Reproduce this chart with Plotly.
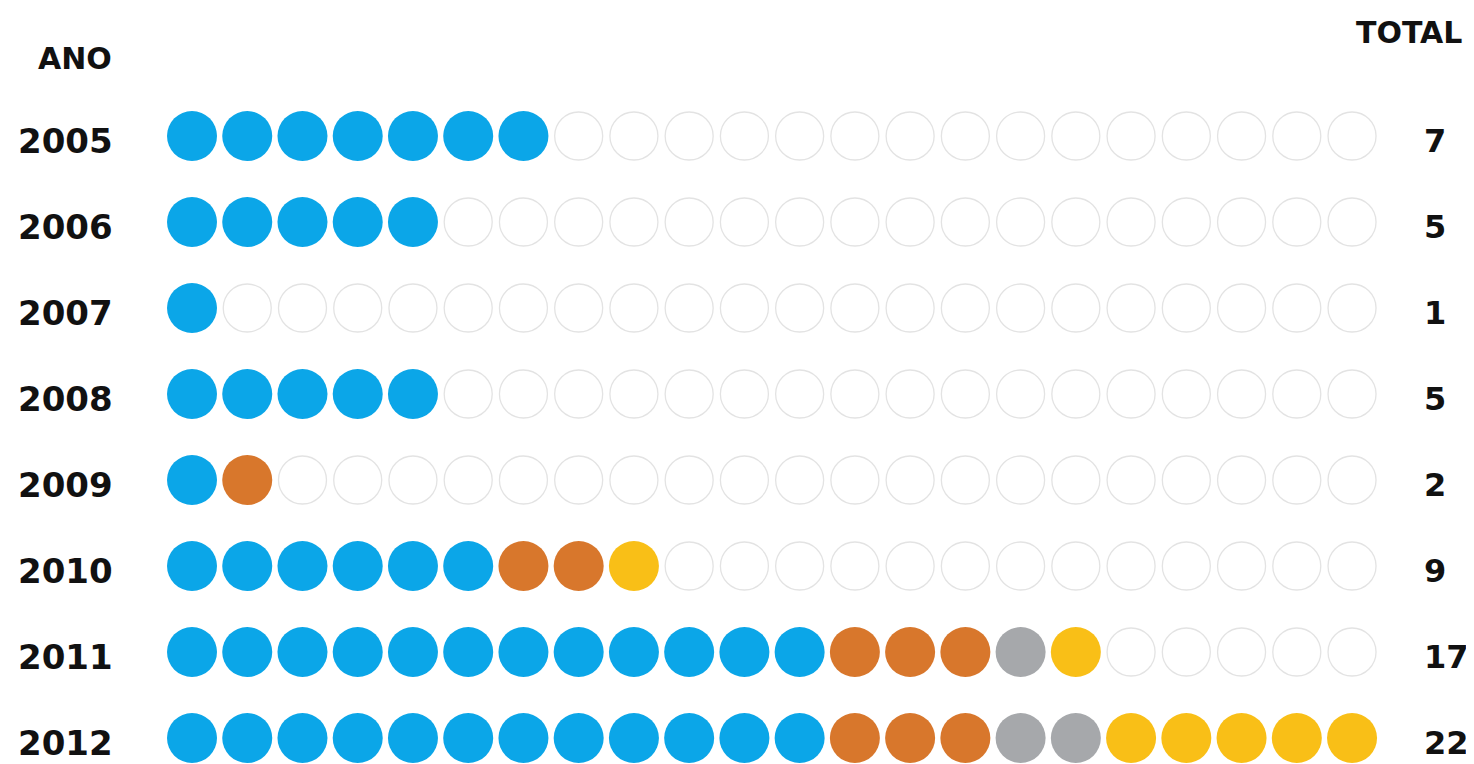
import plotly.graph_objects as go

# ---- data ----
years = ["2005", "2006", "2007", "2008", "2009", "2010", "2011", "2012"]
blue_counts = [7, 5, 1, 5, 1, 6, 12, 12]
orange_counts = [0, 0, 0, 0, 1, 2, 3, 3]
gray_counts = [0, 0, 0, 0, 0, 0, 1, 2]
yellow_counts = [0, 0, 0, 0, 0, 1, 1, 5]
n_columns = 22

categories = ["blue", "orange", "gray", "yellow"]
colors = {"blue": "#0ba6e8", "orange": "#d8772c", "gray": "#a6a8ab", "yellow": "#f9bf17"}
counts = {"blue": blue_counts, "orange": orange_counts, "gray": gray_counts, "yellow": yellow_counts}

fig = go.Figure()

# empty placeholder circles
ex, ey = [], []
for r, y in enumerate(years):
    total = sum(counts[c][r] for c in categories)
    for col in range(total, n_columns):
        ex.append(col)
        ey.append(r)
fig.add_trace(go.Scatter(
    x=ex, y=ey, mode="markers", hoverinfo="skip", showlegend=False,
    marker=dict(symbol="circle", size=48, color="white",
                line=dict(color="#e3e3e3", width=1.3)),
))

# filled circles
for c in categories:
    xs, ys = [], []
    for r, y in enumerate(years):
        start = 0
        for prev in categories:
            if prev == c:
                break
            start += counts[prev][r]
        for k in range(counts[c][r]):
            xs.append(start + k)
            ys.append(r)
    fig.add_trace(go.Scatter(
        x=xs, y=ys, mode="markers", showlegend=False, name=c,
        marker=dict(symbol="circle", size=50, color=colors[c], line=dict(width=0)),
    ))

W, H = 1474, 764
col_px0, col_step = 184, 55.24
row_px0, row_step = 128, 86.0

font_fam = "DejaVu Sans"
annotations = []
for r, y in enumerate(years):
    annotations.append(dict(
        x=107 / W, xref="paper", y=r, yref="y", text="<b>%s</b>" % y,
        xanchor="right", yanchor="middle", showarrow=False, yshift=-5,
        font=dict(family=font_fam, size=34, color="#111111"),
    ))
    total = sum(counts[c][r] for c in categories)
    annotations.append(dict(
        x=1414 / W, xref="paper", y=r, yref="y", text="<b>%d</b>" % total,
        xanchor="left", yanchor="middle", showarrow=False, yshift=-5,
        font=dict(family=font_fam, size=32, color="#111111"),
    ))
annotations.append(dict(
    x=106 / W, xref="paper", y=1 - 50 / H, yref="paper", text="<b>ANO</b>",
    xanchor="right", yanchor="middle", showarrow=False,
    font=dict(family=font_fam, size=30, color="#111111"),
))
annotations.append(dict(
    x=1456 / W, xref="paper", y=1 - 24 / H, yref="paper", text="<b>TOTAL</b>",
    xanchor="right", yanchor="middle", showarrow=False,
    font=dict(family=font_fam, size=30, color="#111111"),
))

x0 = -col_px0 / col_step
x1 = x0 + W / col_step
y_top = -row_px0 / row_step
y_bot = y_top + H / row_step

fig.update_layout(
    width=W, height=H,
    margin=dict(l=0, r=0, t=0, b=0),
    paper_bgcolor="white", plot_bgcolor="white",
    xaxis=dict(range=[x0, x1], visible=False, fixedrange=True),
    yaxis=dict(range=[y_bot, y_top], visible=False, fixedrange=True),
    annotations=annotations,
)

fig.write_html("out.html")
